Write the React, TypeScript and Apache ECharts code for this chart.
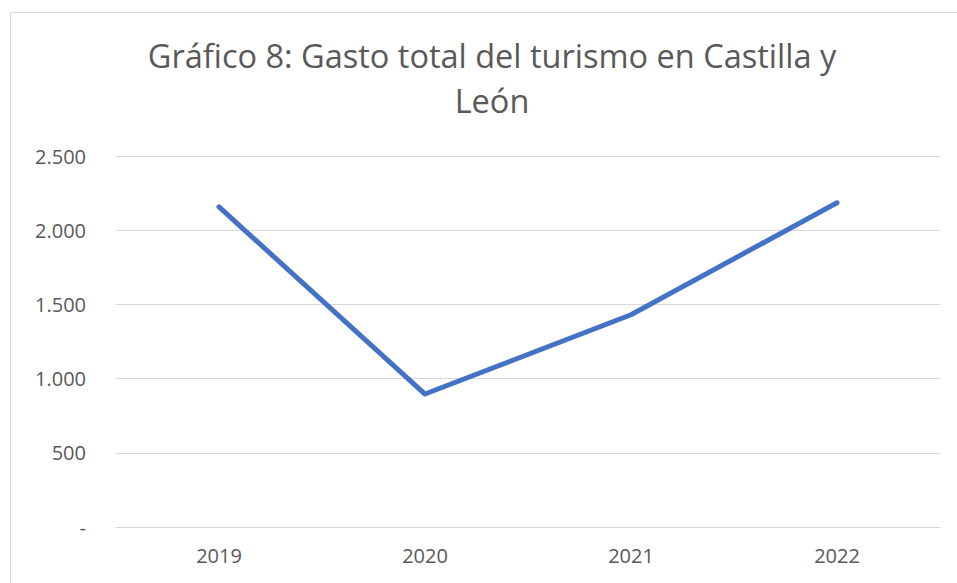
import React, { useEffect, useRef } from "react";
import * as echarts from "echarts";

const categories = ["2019", "2020", "2021", "2022"];
const gasto = [2157, 896, 1430, 2185];
const yTicks = [0, 500, 1000, 1500, 2000, 2500];
const titleText = "Gráfico 8: Gasto total del turismo en Castilla y\nLeón";

function fmt(v: number): string {
  if (v === 0) return "-";
  return String(v).replace(/\B(?=(\d{3})+(?!\d))/g, ".");
}

export default function App() {
  const ref = useRef<HTMLDivElement>(null);
  useEffect(() => {
    if (!ref.current) return;
    const chart = echarts.init(ref.current, null, { renderer: "svg" });
    const font = "Open Sans";
    chart.setOption({
      animation: false,
      backgroundColor: "#ffffff",
      title: {
        text: titleText,
        left: 487,
        textAlign: "center",
        top: 28,
        textStyle: {
          fontFamily: font,
          fontSize: 32.5,
          fontWeight: "normal",
          color: "#595959",
          lineHeight: 45,
        },
      },
      graphic: [
        {
          type: "rect",
          shape: { x: 10.5, y: 12.5, width: 1200, height: 1200 },
          style: { fill: "none", stroke: "#d9d9d9", lineWidth: 1 },
          silent: true,
        },
      ],
      grid: { left: 116, right: 17, top: 156, bottom: 56, containLabel: false },
      xAxis: {
        type: "category",
        data: categories,
        boundaryGap: true,
        axisLine: { show: true, lineStyle: { color: "#d9d9d9", width: 1 } },
        axisTick: { show: false },
        axisLabel: {
          color: "#595959",
          fontFamily: font,
          fontSize: 20,
          margin: 18,
        },
      },
      yAxis: {
        type: "value",
        min: yTicks[0],
        max: yTicks[yTicks.length - 1],
        interval: 500,
        axisLine: { show: false },
        axisTick: { show: false },
        splitLine: { lineStyle: { color: "#d9d9d9", width: 1 } },
        axisLabel: {
          color: "#595959",
          fontFamily: font,
          fontSize: 20,
          margin: 30,
          formatter: (v: number) => fmt(v),
        },
      },
      series: [
        {
          type: "line",
          data: gasto,
          showSymbol: false,
          symbol: "none",
          lineStyle: { color: "#4472C4", width: 5, cap: "round", join: "round" },
          itemStyle: { color: "#4472C4" },
        },
      ],
    });
    return () => chart.dispose();
  }, []);
  return (
    <div
      ref={ref}
      style={{ position: "fixed", left: 0, top: 0, width: 957, height: 583 }}
    />
  );
}
